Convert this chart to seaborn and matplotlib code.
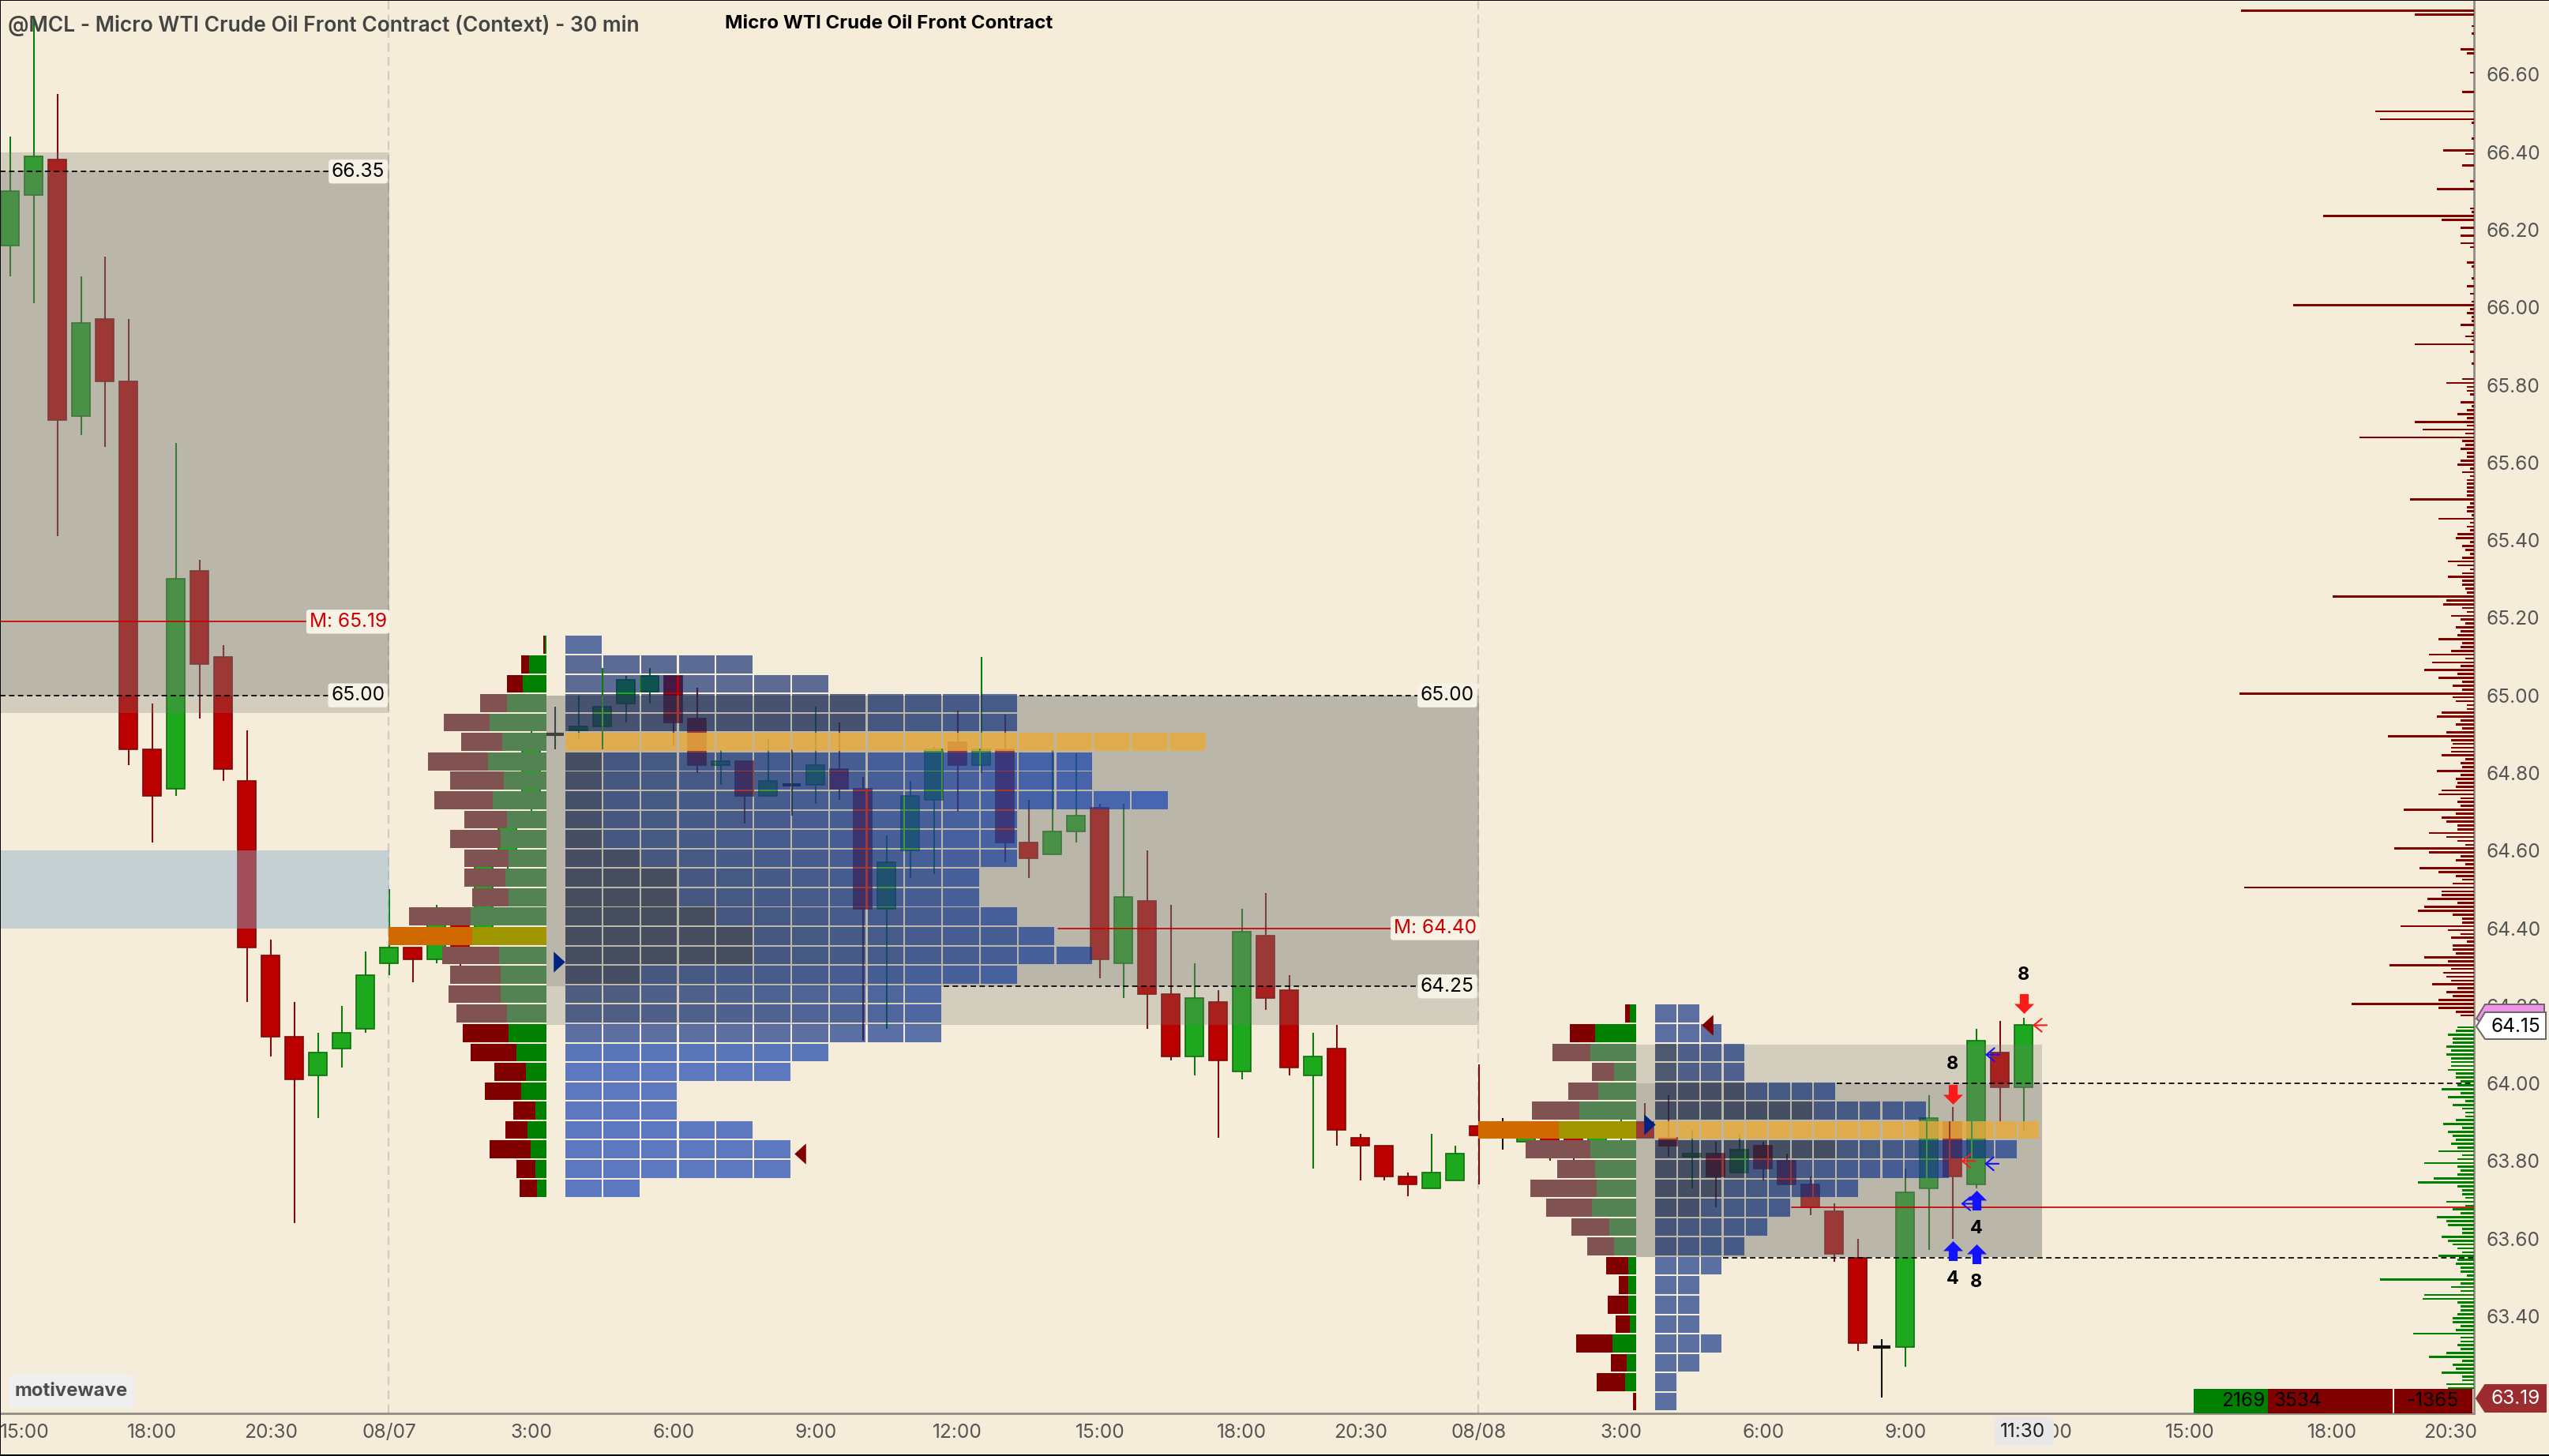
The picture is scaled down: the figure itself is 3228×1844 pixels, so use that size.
import numpy as np
import matplotlib
matplotlib.use("Agg")
import matplotlib.pyplot as plt
from matplotlib.patches import Polygon, FancyBboxPatch
from matplotlib.lines import Line2D
from matplotlib.transforms import ScaledTranslation
import seaborn as sns

# candles, one per 30 min bar, first bar is 15:00
opens = [66.16,66.29,66.38,65.72,65.97,65.81,64.86,64.76,65.32,65.10,64.78,64.33,64.12,64.02,64.09,64.14,64.31,64.35,64.32,64.41,
         64.40,64.56,64.71,64.90,64.91,64.92,64.98,65.01,65.05,64.94,64.82,64.83,64.74,64.77,64.77,64.81,64.76,64.45,64.60,64.73,
         64.88,64.82,64.86,64.62,64.59,64.65,64.71,64.31,64.47,64.23,64.07,64.21,64.03,64.38,64.24,64.02,64.09,63.86,63.84,63.76,
         63.73,63.75,63.89,63.88,63.85,63.87,63.88,63.85,63.86,63.90,63.86,63.81,63.82,63.77,63.84,63.80,63.74,63.67,63.55,63.32,
         63.32,63.73,63.90,63.74,64.08,63.99]
highs = [66.44,66.75,66.55,66.08,66.13,65.97,64.98,65.65,65.35,65.13,64.91,64.37,64.21,64.13,64.20,64.34,64.50,64.35,64.46,64.43,
         64.56,64.66,64.91,64.97,65.00,65.07,65.05,65.07,65.05,65.02,64.86,64.83,64.89,64.86,64.97,64.93,64.79,64.64,64.78,64.87,
         64.96,65.10,64.95,64.73,64.86,64.85,64.72,64.72,64.60,64.46,64.31,64.24,64.45,64.49,64.28,64.13,64.15,63.87,63.84,63.77,
         63.87,63.84,64.05,63.91,63.89,63.90,63.89,63.90,63.95,63.95,63.97,63.88,63.85,63.87,63.85,63.82,63.76,63.69,63.60,63.34,
         63.78,63.97,63.94,64.14,64.16,64.17]
lows = [66.08,66.01,65.41,65.67,65.64,64.82,64.62,64.74,64.94,64.78,64.21,64.07,63.64,63.91,64.04,64.13,64.28,64.26,64.31,64.30,
        64.36,64.55,64.70,64.86,64.89,64.86,64.93,64.98,64.87,64.80,64.77,64.67,64.74,64.69,64.72,64.73,64.11,64.14,64.53,64.54,
        64.70,64.80,64.57,64.53,64.59,64.62,64.27,64.22,64.14,64.06,64.02,63.86,64.01,64.19,64.02,63.78,63.84,63.75,63.75,63.71,
        63.73,63.75,63.74,63.83,63.84,63.80,63.80,63.82,63.85,63.86,63.81,63.73,63.68,63.77,63.75,63.74,63.66,63.54,63.31,63.19,
        63.27,63.57,63.60,63.73,63.90,63.88]
closes = [66.30,66.39,65.71,65.96,65.81,64.86,64.74,65.30,65.08,64.81,64.35,64.12,64.01,64.08,64.13,64.28,64.35,64.32,64.41,64.33,
          64.56,64.66,64.90,64.90,64.92,64.97,65.04,65.05,64.93,64.82,64.83,64.74,64.78,64.77,64.82,64.76,64.45,64.57,64.74,64.86,
          64.82,64.86,64.62,64.58,64.65,64.69,64.32,64.48,64.23,64.07,64.22,64.06,64.39,64.22,64.04,64.07,63.88,63.84,63.76,63.74,
          63.77,63.82,63.865,63.88,63.88,63.84,63.85,63.88,63.88,63.86,63.84,63.82,63.76,63.83,63.78,63.74,63.68,63.56,63.33,63.32,
          63.72,63.91,63.76,64.11,63.99,64.15]

# first session profile
tpo1_prices = [65.13,65.08,65.03,64.98,64.93,64.88,64.83,64.78,64.73,64.68,64.63,64.58,64.53,64.48,64.43,64.38,64.33,64.28,64.23,64.18,
               64.13,64.08,64.03,63.98,63.93,63.88,63.83,63.78,63.73]
tpo1_counts = [1,5,7,12,12,17,14,14,16,12,12,12,11,11,12,13,14,12,10,10,10,7,6,3,3,5,6,6,2]
tpo1_dark = [1,4,6,8,8,0,1,1,1,1,1,2,3,3,4,5,5,2,2,2,2,1,0,0,0,0,0,0,0]
tpo1_peak = [.45,.6,.6,.8,.8,0,.95,.9,.9,.9,.95,.95,1,1,1,1,1,.95,.7,.65,.45,.2,.1,.1,.1,.1,.1,.1,.1]
vol1_buy = [2,22,30,50,72,56,74,54,68,50,58,48,52,48,96,94,60,58,58,50,48,38,26,32,14,24,20,14,12]
vol1_sell = [2,10,20,34,58,52,76,68,74,54,64,56,52,46,78,106,72,64,66,64,58,58,40,46,28,28,52,24,22]
vol1_poc = 64.38

# second session profile
tpo2_prices = [64.18,64.13,64.08,64.03,63.98,63.93,63.88,63.83,63.78,63.73,63.68,63.63,63.58,63.53,63.48,63.43,63.38,63.33,63.28,63.23,63.18]
tpo2_counts = [2,3,4,4,8,12,17,16,13,9,6,5,4,3,2,2,2,3,2,1,1]
tpo2_dark = [2,3,1,1,4,7,0,8,4,3,2,1,1,3,2,2,2,3,2,1,1]
tpo2_peak = [.45,.45,.9,.9,.95,.95,0,.95,.95,.95,.85,.7,.7,.45,.45,.45,.45,.45,.45,.45,.45]
vol2_buy = [8,52,58,28,48,72,98,58,52,50,56,34,28,10,10,10,8,30,12,14,0]
vol2_sell = [6,32,48,28,38,60,102,82,48,84,58,48,34,28,12,26,18,46,20,36,4]
vol2_poc = 63.88

# volume by price at the right edge, one row per cent from the top
vbp_sell = [1,0,149,39,0,1,3,0,3,1,1,0,10,6,0,1,1,0,4,0,0,1,0,9,0,1,0,1,64,1,61,3,1,1,0,3,1,1,21,7,0,1,9,1,0,1,4,1,25,1,1,0,0,4,3,
            97,22,1,10,1,10,1,10,4,0,1,1,6,3,1,1,3,1,6,1,4,0,3,116,4,6,3,3,10,1,3,7,3,39,1,4,1,1,3,0,1,0,9,19,6,6,4,1,10,3,6,12,6,39,6,
            34,7,74,9,7,10,6,6,10,12,4,9,4,6,6,6,6,6,42,4,6,6,3,24,4,6,4,12,13,4,9,7,4,9,18,12,4,9,18,9,9,7,6,91,19,21,9,6,16,10,7,13,10,12,
            24,9,10,16,30,7,28,10,33,12,24,9,15,9,150,15,13,6,6,22,25,10,13,9,19,56,16,15,16,16,22,7,10,9,25,10,13,12,13,22,24,10,12,10,46,13,22,19,12,12,
            30,19,12,7,52,30,10,13,7,36,24,13,9,15,147,22,22,31,12,33,37,15,9,9,48,18,10,16,6,15,15,13,33,18,55,16,21,19,16,28,12,19,15,24,79,24,13,10,0]
vbp_buy = [12,13,18,15,15,19,16,19,16,16,16,18,13,13,10,12,22,10,18,7,15,9,7,7,13,21,9,18,15,13,16,12,24,9,12,33,12,10,12,27,37,12,9,9,7,19,7,15,10,25,
           19,18,9,9,22,18,15,12,9,24,12,13,10,10,6,61,10,16,10,33,34,12,10,10,12,15,15,10,13,40,10,10,12,10,19,30,9,15,13,22,9,9,19,18]
vbp_top = 66.785

# reference levels: price, first bar, last bar, label, label right edge
level_prices = [66.35,65.00,65.00,64.25,64.00,63.55]
level_start = [-0.42,-0.42,42.6,39.4,77.1,72.3]
level_end = [13.5,13.5,59.6,59.6,104.0,104.0]
level_text = ["66.35","65.00","65.00","64.25","",""]
level_edge = [15.82,15.82,61.8,61.8,0,0]
mid_prices = [65.19,64.40,63.68]
mid_start = [-0.42,44.25,75.2]
mid_end = [12.68,58.3,104.0]
mid_text = ["M: 65.19","M: 64.40",""]
mid_edge = [15.9,61.9,0]

# signals
down_bars = [85,82]
down_prices = [64.205,63.972]
up_bars = [83,82,83]
up_prices = [63.70,63.569,63.56]
count_bars = [85,82,83,82,83]
count_prices = [64.279,64.049,63.626,63.496,63.488]
count_text = ["8","8","4","4","8"]
red_tip_bars = [85.37,82.35]
red_tip_prices = [64.15,63.80]
blue_tip_bars = [83.37,83.34,82.35]
blue_tip_prices = [64.074,63.793,63.69]

tick_bars = [0,6,11,16,22,28,34,40,46,52,57,62,68,74,80,86,92,98,103]
tick_labels = ["15:00","18:00","20:30","08/07","3:00","6:00","9:00","12:00","15:00","18:00","20:30","08/08","3:00","6:00","9:00","12:00","15:00","18:00","20:30"]
price_ticks = [63.4,63.6,63.8,64.0,64.2,64.4,64.6,64.8,65.0,65.2,65.4,65.6,65.8,66.0,66.2,66.4,66.6,66.8]
delta_buy = 2169
delta_sell = 3534
delta_net = -1365

W, H = 3228, 1844
BG = "#f5edda"
sns.set_theme(style="white", rc={"figure.facecolor": BG, "axes.facecolor": BG})
plt.rcParams["font.family"] = ["Inter", "DejaVu Sans"]
GREY = "#555555"
FS = 8.8

fig = plt.figure(figsize=(W / 200, H / 200), dpi=200)
ax = fig.add_axes([0, (H - 1790) / H, 3133 / W, 1790 / H])
ax.set_xlim(-0.42, 104.0)
y_top, y_bot = 66.792, 63.1497
ax.set_ylim(y_bot, y_top)

# session separators
for b in [16, 62]:
    ax.axvline(b - 0.03, color="#d2cdc2", lw=0.8, ls=(0, (5, 3)), zorder=1)

# candles
bars = np.arange(len(opens))
o, h, l, c = map(np.array, (opens, highs, lows, closes))
up = c > o
dn = c < o
dj = c == o
ax.vlines(bars[up], l[up], h[up], color="#0c7a0c", lw=0.75, zorder=2)
ax.vlines(bars[dn], l[dn], h[dn], color="#7d0d0d", lw=0.75, zorder=2)
ax.vlines(bars[dj], l[dj], h[dj], color="#111111", lw=0.75, zorder=2)
ax.bar(bars[up], (c - o)[up], bottom=o[up], width=0.77, color="#1ea81e", edgecolor="#0c700c", lw=0.6, zorder=2.1)
ax.bar(bars[dn], (o - c)[dn], bottom=c[dn], width=0.77, color="#bb0000", edgecolor="#7d0808", lw=0.6, zorder=2.1)
ax.hlines(o[dj], bars[dj] - 0.38, bars[dj] + 0.38, color="#111111", lw=1.5, zorder=2.1)

# value areas, each one a wide box with its core box over it
veil = dict(color="#7a7a74", alpha=0.274, lw=0, zorder=3)
ax.fill_between([-0.42, 16], 64.955, 66.40, **veil)
ax.fill_between([-0.42, 16], 65.00, 66.35, **veil)
ax.fill_between([22.65, 62], 64.15, 65.00, **veil)
ax.fill_between([22.65, 62], 64.25, 65.00, **veil)
ax.fill_between([68.65, 85.78], 63.553, 64.10, **veil)
ax.fill_between([68.65, 85.78], 63.553, 64.00, **veil)
ax.fill_between([-0.42, 16], 64.40, 64.60, color="#8aadca", alpha=0.45, lw=0, zorder=3)


def shade(col, dark, peak):
    s = peak if col < dark else max(0.05, min(peak, 0.62 - 0.04 * (col - dark)))
    blue = np.array([10, 63, 190]) / 255
    navy = np.array([7, 21, 55]) / 255
    return (*(blue + (navy - blue) * s), 0.65)


def draw_profile(prices, counts, dark, peak, buy, sell, poc, right, start, cell, low, high):
    for p, n, d, k in zip(prices, counts, dark, peak):
        lefts = start + np.arange(n) * cell
        if k == 0:
            ax.barh([p] * n, [cell - 0.07] * n, left=lefts, height=0.046, align="center",
                    color=(0.91, 0.675, 0.24, 0.82), lw=0, zorder=4)
        else:
            ax.barh([p] * n, [cell - 0.07] * n, left=lefts, height=0.046, align="center",
                    color=[shade(i, d, k) for i in range(n)], lw=0, zorder=4)
    for p, b, s in zip(prices, buy, sell):
        if p == poc:
            gc, rc = "#a09600", "#d06a00"
        elif low < p < high:
            gc, rc = "#538253", "#815252"
        else:
            gc, rc = "#008000", "#800000"
        ax.barh(p, b / 30, left=right - b / 30, height=0.046, color=gc, lw=0, zorder=5)
        ax.barh(p, s / 30, left=right - (b + s) / 30, height=0.046, color=rc, lw=0, zorder=5)


draw_profile(tpo1_prices, tpo1_counts, tpo1_dark, tpo1_peak, vol1_buy, vol1_sell, vol1_poc, 22.65, 23.45, 1.593, 64.15, 65.0)
draw_profile(tpo2_prices, tpo2_counts, tpo2_dark, tpo2_peak, vol2_buy, vol2_sell, vol2_poc, 68.65, 69.45, 0.957, 63.553, 64.10)

# level lines and labels
for p, a, b, t, e in zip(level_prices, level_start, level_end, level_text, level_edge):
    ax.plot([a, b], [p, p], color="black", lw=0.62, ls=(0, (4, 2.6)), zorder=6)
    if t:
        ax.text(e, p, t, ha="right", va="center", fontsize=FS, color="black", zorder=7,
                bbox=dict(boxstyle="round,pad=0.15", fc="#f7f2e6", ec="none"))
for p, a, b, t, e in zip(mid_prices, mid_start, mid_end, mid_text, mid_edge):
    ax.plot([a, b], [p, p], color="#cc0000", lw=0.62, zorder=6)
    if t:
        ax.text(e, p, t, ha="right", va="center", fontsize=FS, color="#cc0000", zorder=7,
                bbox=dict(boxstyle="round,pad=0.15", fc="#f7f2e6", ec="none"))

# profile markers
tri_r = [(-0.55, -1), (0.55, 0), (-0.55, 1)]
tri_l = [(0.55, -1), (-0.55, 0), (0.55, 1)]
ax.plot([23.17, 69.2], [64.314, 63.895], ls="none", marker=tri_r, ms=9.5, color="#00237f", mew=0, zorder=7)
ax.plot([33.35, 71.65], [63.82, 64.15], ls="none", marker=tri_l, ms=9.5, color="#800000", mew=0, zorder=7)

# signal arrows
arrow_up = [(-0.45, -1), (0.45, -1), (0.45, 0), (1, 0), (0, 1), (-1, 0), (-0.45, 0)]
arrow_dn = [(x, -y) for x, y in arrow_up]
ax.plot(up_bars, up_prices, ls="none", marker=arrow_up, ms=9, color="#1212ff", mew=0, zorder=8)
ax.plot(down_bars, down_prices, ls="none", marker=arrow_dn, ms=9, color="#ff1a1a", mew=0, zorder=8)
for b, p, t in zip(count_bars, count_prices, count_text):
    ax.text(b, p, t, ha="center", va="center", fontsize=8.4, fontweight="bold", color="black", zorder=8)
for tips, prices, col in [(red_tip_bars, red_tip_prices, "#ff1a1a"), (blue_tip_bars, blue_tip_prices, "#1212ff")]:
    for b, p in zip(tips, prices):
        ax.annotate("", xy=(b, p), xytext=(b + 0.6, p), zorder=8,
                    arrowprops=dict(arrowstyle="->,head_length=0.3,head_width=0.25", color=col, lw=0.75,
                                    shrinkA=0, shrinkB=0))

# buy, sell and net box, bottom right
box_bot = y_bot
box_top = 63.213
ym = (box_bot + box_top) / 2
ax.barh(ym, delta_buy / 23.1 / 30, left=(2778 - 12.6) / 30, height=box_top - box_bot, color="#008000", lw=0, zorder=7)
ax.barh(ym, delta_sell / 22.4 / 30, left=(2872 - 12.6) / 30, height=box_top - box_bot, color="#800000", lw=0, zorder=7)
ax.barh(ym, -delta_net / 13.9 / 30, left=(3032 - 12.6) / 30, height=box_top - box_bot, color="#800000", lw=0, zorder=7)
ax.text((2868 - 12.6) / 30, ym, str(delta_buy), ha="right", va="center", fontsize=FS, color="black", zorder=8)
ax.text((2879 - 12.6) / 30, ym, str(delta_sell), ha="left", va="center", fontsize=FS, color="black", zorder=8)
ax.text((3113 - 12.6) / 30, ym, str(delta_net), ha="right", va="center", fontsize=FS, color="black", zorder=8)

# axes look
ax.set_yticks(price_ticks, [f"{v:.2f}" for v in price_ticks])
ax.yaxis.tick_right()
ax.set_xticks(tick_bars, tick_labels)
ax.tick_params(axis="both", length=0, labelsize=FS, labelcolor=GREY)
ax.tick_params(axis="x", pad=4.6)
ax.tick_params(axis="y", pad=5.5)
ax.xaxis.get_ticklabels()[0].set_transform(
    ax.xaxis.get_ticklabels()[0].get_transform() + ScaledTranslation(19 / 200, 0, fig.dpi_scale_trans))
for side in ["top", "left"]:
    ax.spines[side].set_visible(False)
for side in ["right", "bottom"]:
    ax.spines[side].set_color("#8f8c85")
    ax.spines[side].set_linewidth(1.0)
ax.set_xlabel("")
ax.set_ylabel("")

# volume by price, growing left from the price axis
vbp_all = vbp_sell + [0] + vbp_buy
vbp_prices = np.round(vbp_top - 0.01 * np.arange(len(vbp_all)), 3)
vbp_hue = ["sell"] * len(vbp_sell) + ["sell"] + ["buy"] * len(vbp_buy)
ax_vp = ax.twiny()
sns.barplot(x=vbp_all, y=vbp_prices, hue=vbp_hue, orient="h", native_scale=True, dodge=False, width=0.55,
            palette={"sell": "#800000", "buy": "#008000"}, saturation=1, legend=False, ax=ax_vp, linewidth=0)
ax_vp.set_xlim(1.5, 3133 / 2 + 1.5)
ax_vp.invert_xaxis()
ax_vp.set_ylim(y_bot, y_top)
ax_vp.patch.set_visible(False)
ax_vp.set_xticks([])
ax_vp.set_xlabel("")
ax_vp.set_ylabel("")
for s in ax_vp.spines.values():
    s.set_visible(False)
ax_vp.set_zorder(ax.get_zorder() + 1)


def fx(x):
    return x / W


def fy(y):
    return 1 - y / H


def badge(verts, face, edge):
    fig.add_artist(Polygon([(fx(x), fy(y)) for x, y in verts], closed=True, transform=fig.transFigure,
                           fc=face, ec=edge, lw=0.7, zorder=20))


badge([(3136, 1290), (3147, 1272), (3222, 1272), (3222, 1300), (3147, 1300)], "#ef93ea", "#666666")
badge([(3136, 1300), (3147, 1282), (3224, 1282), (3224, 1316), (3147, 1316)], "white", "#666666")
badge([(3136, 1771), (3147, 1754), (3224, 1754), (3224, 1788), (3147, 1788)], "#9b2d30", "#9b2d30")
fig.text(fx(3186), fy(1300), "64.15", ha="center", va="center", fontsize=FS, color="black", zorder=21)
fig.text(fx(3186), fy(1771), "63.19", ha="center", va="center", fontsize=FS, color="white", zorder=21)

# highlighted time tag
fig.add_artist(FancyBboxPatch((fx(2526), fy(1831)), fx(75), 36 / H, boxstyle="round,pad=0,rounding_size=0.002",
                              transform=fig.transFigure, fc="#e8e8e8", ec="none", zorder=20))
fig.text(fx(2562), fy(1813), "11:30", ha="center", va="center", fontsize=FS, color="#222222", zorder=21)

# titles and logo
fig.text(fx(10), fy(33), "@MCL - Micro WTI Crude Oil Front Contract (Context) - 30 min", ha="left", va="center",
         fontsize=9.5, fontweight="semibold", color="#444444", zorder=21)
fig.text(fx(918), fy(30), "Micro WTI Crude Oil Front Contract", ha="left", va="center",
         fontsize=8.7, fontweight="bold", color="black", zorder=21)
fig.add_artist(FancyBboxPatch((fx(11), fy(1783)), fx(159), 42 / H, boxstyle="round,pad=0,rounding_size=0.002",
                              transform=fig.transFigure, fc="#efefef", ec="none", zorder=20))
fig.text(fx(18), fy(1762), "motivewave", ha="left", va="center", fontsize=8.6, fontweight="bold", color="#4d4d4d", zorder=21)

# thin black window border
for xs, ys in [((0, 0), (0, 1)), ((0, 1), (1, 1)), ((0, 1), (0.0004, 0.0004))]:
    fig.add_artist(Line2D(xs, ys, color="black", lw=0.7, transform=fig.transFigure, zorder=22))

fig.savefig("out.png", dpi=200, facecolor=BG)
